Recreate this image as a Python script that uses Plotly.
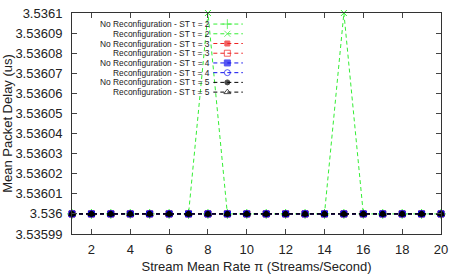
import plotly.graph_objects as go

x_rates = list(range(1, 21))
base_delay = [3.536] * 20
reconf_tau2 = [3.536] * 7 + [3.5361] + [3.536] * 6 + [3.5361] + [3.536] * 5

series_names = [
    "No Reconfiguration - ST τ = 2",
    "Reconfiguration - ST τ = 2",
    "No Reconfiguration - ST τ = 3",
    "Reconfiguration - ST τ = 3",
    "No Reconfiguration - ST τ = 4",
    "Reconfiguration - ST τ = 4",
    "No Reconfiguration - ST τ = 5",
    "Reconfiguration - ST τ = 5",
]
series_values = [base_delay, reconf_tau2, base_delay, base_delay,
                 base_delay, base_delay, base_delay, base_delay]
series_colors = ["#33ee33", "#33ee33", "#ee2222", "#ee2222",
                 "#1010ee", "#1010ee", "#000000", "#000000"]
series_symbols = ["cross-thin", "x-thin", "square", "square-open",
                  "square", "circle-open", "circle", "triangle-up-open"]
series_sizes = [7, 6, 5, 6, 6, 6, 5, 6]

y_tickvals = [3.5361, 3.53609, 3.53608, 3.53607, 3.53606, 3.53605, 3.53604,
              3.53603, 3.53602, 3.53601, 3.536, 3.53599]
y_ticktext = ["3.5361", "3.53609", "3.53608", "3.53607", "3.53606", "3.53605",
              "3.53604", "3.53603", "3.53602", "3.53601", "3.536", "3.53599"]
x_tickvals = list(range(2, 21, 2))

FONT = "Liberation Sans, Arial, sans-serif"

fig = go.Figure()
for name, vals, col, sym, sz in zip(series_names, series_values, series_colors,
                                    series_symbols, series_sizes):
    fig.add_trace(go.Scatter(
        x=x_rates, y=vals, mode="lines+markers", name=name,
        line=dict(color=col, width=1, dash="4px,3px"),
        marker=dict(symbol=sym, size=sz, color=col,
                    line=dict(color=col, width=1)),
        showlegend=False, cliponaxis=False,
    ))

# custom gnuplot-style legend (text on left, sample on right)
legend_top = 0.95
legend_step = 0.0440
for i, (name, col, sym, sz) in enumerate(zip(series_names, series_colors,
                                             series_symbols, series_sizes)):
    yk = legend_top - i * legend_step
    fig.add_trace(go.Scatter(
        x=[0.383, 0.421, 0.463], y=[yk, yk, yk], xaxis="x2", yaxis="y2",
        mode="lines+markers",
        line=dict(color=col, width=1, dash="4px,3px"),
        marker=dict(symbol=sym, size=[0, sz, 0], color=col,
                    line=dict(color=col, width=1)),
        showlegend=False, hoverinfo="skip",
    ))
    fig.add_annotation(
        xref="x2", yref="y2", x=0.379, y=yk, text=name, showarrow=False,
        xanchor="right", yanchor="middle",
        font=dict(family=FONT, size=8.4, color="#222222"),
    )

fig.update_layout(
    width=457, height=274,
    margin=dict(l=72, r=16, t=13, b=40, autoexpand=False),
    plot_bgcolor="white", paper_bgcolor="white",
    font=dict(family=FONT, size=13, color="#222222"),
    xaxis=dict(
        range=[1, 20], tickvals=x_tickvals, ticks="inside", ticklen=5,
        showline=True, linecolor="#333333", linewidth=1, mirror="allticks",
        showgrid=False, zeroline=False, ticklabelstandoff=3,
        automargin=False,
        title=dict(text="Stream Mean Rate π (Streams/Second)",
                   font=dict(size=13)),
        tickfont=dict(size=13),
    ),
    yaxis=dict(
        range=[3.53599, 3.5361], tickvals=y_tickvals, ticktext=y_ticktext,
        ticks="inside", ticklen=5, ticklabelstandoff=6,
        showline=True, linecolor="#333333", linewidth=1, mirror="allticks",
        showgrid=False, zeroline=False, automargin=False,
        title=dict(text="Mean Packet Delay (us)", font=dict(size=13)),
        tickfont=dict(size=13),
    ),
    xaxis2=dict(range=[0, 1], autorange=False, overlaying="x", anchor="y2",
                visible=False, domain=[0, 1]),
    yaxis2=dict(range=[0, 1], autorange=False, overlaying="y", anchor="x2",
                visible=False, domain=[0, 1]),
)

fig.write_html("out.html", config={"displayModeBar": False},
               post_script="document.body.style.margin='0';"
                           "document.body.style.overflow='hidden';")
